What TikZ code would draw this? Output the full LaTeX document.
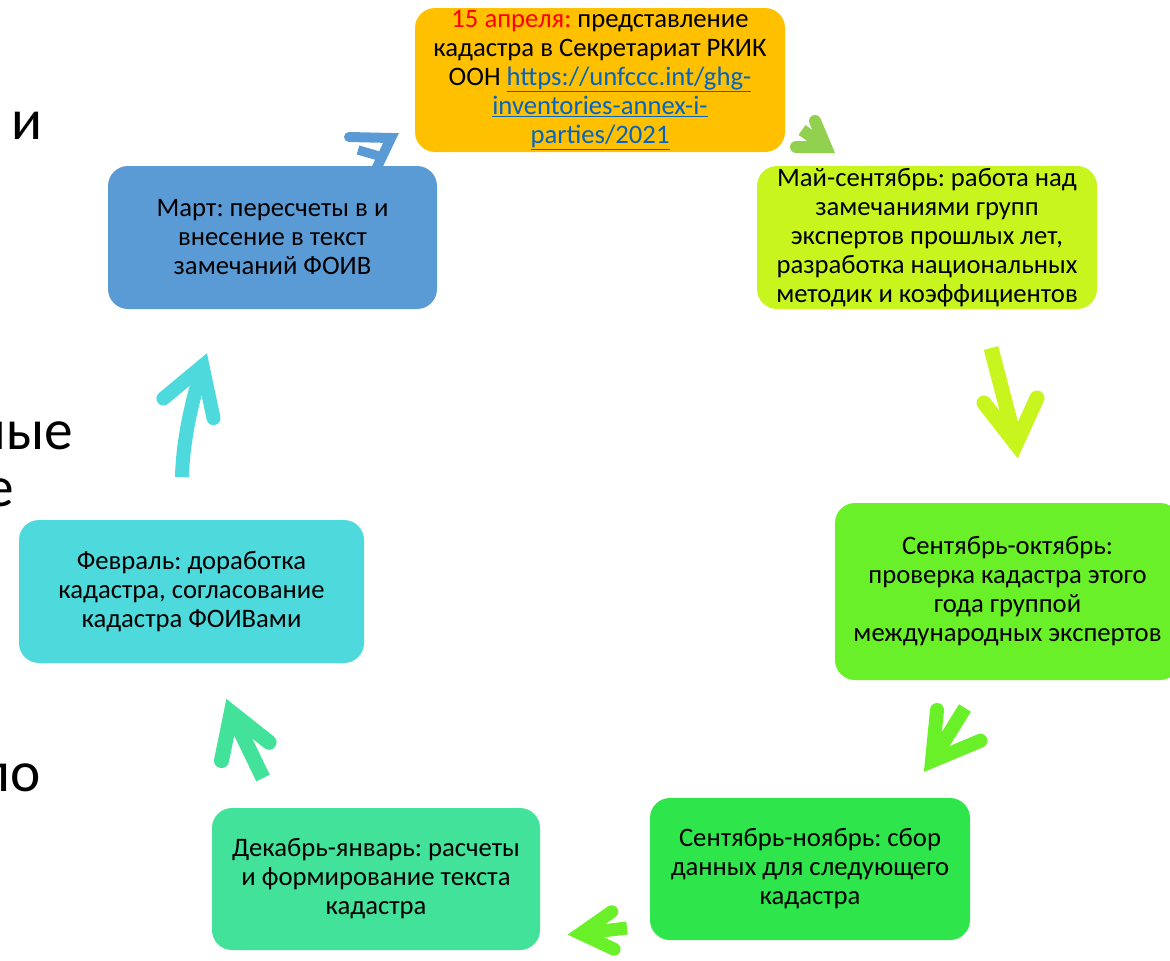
\documentclass[tikz,border=0pt]{standalone}
\usepackage{fontspec}
\setmainfont{Carlito}
\frenchspacing
\definecolor{cOrange}{HTML}{FFC000}
\definecolor{cBlue}{HTML}{5B9BD5}
\definecolor{cLime}{RGB}{200,245,30}
\definecolor{cGreen}{RGB}{106,240,40}
\definecolor{cGreenB}{RGB}{46,230,76}
\definecolor{cMint}{RGB}{67,226,155}
\definecolor{cCyan}{RGB}{78,218,220}
\definecolor{cLeaf}{HTML}{92D050}
\definecolor{cLink}{HTML}{0563C1}
\newcommand\lnk[1]{\textcolor{cLink}{\underline{#1}}}
\tikzset{
  stage/.style={fill=#1, rounded corners=15pt, inner sep=0pt, align=center,
                font=\fontsize{20}{21.75}\selectfont},
  shaft/.style={draw=#1, line cap=butt},
  barbs/.style={draw=#1, line cap=round, line join=miter},
  frag/.style={anchor=base east, inner sep=0pt, font=\fontsize{43}{50}\selectfont},
}
% hand-drawn arrow: colour, width, tail, join, barb end, barb end
\newcommand\cyclearrow[6]{%
  \draw[shaft=#1, line width=#2] (#3) -- (#4);
  \draw[barbs=#1, line width=#2] (#5) -- (#4) -- (#6);}
\begin{document}
\begin{tikzpicture}[x=0.75pt, y=-0.75pt]
\useasboundingbox (0,0) rectangle (1170,960);
\clip (0,0) rectangle (1170,960);

% text of the slide behind, cut at the left edge
\node[frag] (fragI)   at (43,139)  {и};
\node[frag] (fragNye) at (73,449)  {ные};
\node[frag] (fragE)   at (14,506)  {е};
\node[frag] (fragPo)  at (41,791)  {по};

% arrow March -> April (partly behind the March box)
\coordinate (aJ) at (391,138);
\coordinate (aL) at (349,137);
\coordinate (aD) at (370,182);
\coordinate (aS1) at (358,150);
\coordinate (aS2) at (379,156);
\draw[barbs=cBlue, line width=7.5pt] (aL) -- (aJ) -- (aD);
\draw[shaft=cBlue, line width=7pt] (aS1) -- (aS2);

% arrow April -> May
\coordinate (bT) at (802,130);
\coordinate (bJ) at (826,147);
\coordinate (bL) at (815,121);
\coordinate (bR) at (796,147);
\cyclearrow{cLeaf}{9pt}{bT}{bJ}{bL}{bR}

% arrow May -> September
\coordinate (cT) at (991,348);
\coordinate (cJ) at (1016,444);
\coordinate (cL) at (984,403);
\coordinate (cR) at (1037,398);
\cyclearrow{cLime}{11.25pt}{cT}{cJ}{cL}{cR}

% arrow September-October -> September-November
\coordinate (dT) at (965,708);
\coordinate (dJ) at (932,761);
\coordinate (dL) at (937,710);
\coordinate (dR) at (980.5,740.7);
\cyclearrow{cGreen}{10.5pt}{dT}{dJ}{dL}{dR}

% arrow September-November -> December-January
\coordinate (eT) at (627,928);
\coordinate (eJ) at (580.6,933.5);
\coordinate (eL) at (611.7,911.7);
\coordinate (eR) at (614.1,949.2);
\cyclearrow{cGreen}{9.75pt}{eT}{eJ}{eL}{eR}

% arrow December-January -> February
\coordinate (fT) at (263,778);
\coordinate (fJ) at (231.3,712.4);
\coordinate (fL) at (221.5,760.6);
\coordinate (fR) at (269.1,742.3);
\cyclearrow{cMint}{11.25pt}{fT}{fJ}{fL}{fR}

% arrow February -> March (curved shaft)
\coordinate (gT) at (182,477);
\coordinate (gJ) at (202.5,366);
\coordinate (gL) at (163.4,398.5);
\coordinate (gR) at (213.5,418.2);
\draw[shaft=cCyan, line width=10.5pt] (gT) .. controls (183,440) and (191,405) .. (gJ);
\draw[barbs=cCyan, line width=10.5pt] (gL) -- (gJ) -- (gR);

% stages of the inventory cycle
\node[stage=cOrange, minimum width=277.5pt, minimum height=108pt] (apr) at (600,80)
  {\textcolor{red}{15 апреля:} представление\\кадастра в Секретариат РКИК\\ООН \lnk{https://unfccc.int/ghg-}\\\lnk{inventories-annex-i-}\\\lnk{parties/2021}};
\node[stage=cBlue, minimum width=246.75pt, minimum height=107.25pt] (mar) at (272.5,237.5)
  {Март: пересчеты в и\\внесение в текст\\замечаний ФОИВ};
\node[stage=cLime, minimum width=255pt, minimum height=107.25pt] (may) at (927,237.5)
  {Май-сентябрь: работа над\\замечаниями групп\\экспертов прошлых лет,\\разработка национальных\\методик и коэффициентов};
\node[stage=cGreen, minimum width=258.75pt, minimum height=132.75pt] (sep) at (1007.5,591.5)
  {Сентябрь-октябрь:\\проверка кадастра этого\\года группой\\международных экспертов};
\node[stage=cGreenB, minimum width=240pt, minimum height=106.5pt] (nov) at (810,869)
  {Сентябрь-ноябрь: сбор\\данных для следующего\\кадастра};
\node[stage=cMint, minimum width=246pt, minimum height=106.5pt] (dec) at (376,879)
  {Декабрь-январь: расчеты\\и формирование текста\\кадастра};
\node[stage=cCyan, minimum width=258.75pt, minimum height=107.25pt] (feb) at (191.5,591.5)
  {Февраль: доработка\\кадастра, согласование\\кадастра ФОИВами};
\end{tikzpicture}
\end{document}
